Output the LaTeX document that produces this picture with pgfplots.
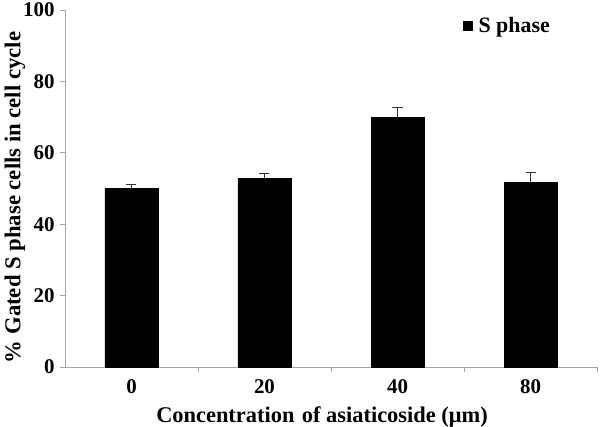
\documentclass[border=0pt]{standalone}
\usepackage{pgfplots}
\pgfplotsset{compat=1.18}
\usepackage{fontspec}
\setmainfont{Liberation Serif}
\begin{document}
\begin{tikzpicture}
\begin{axis}[
  at={(0,0)}, anchor=south west,
  scale only axis,
  width=532bp, height=357bp,
  xmin=-0.5, xmax=3.5,
  ymin=0, ymax=100,
  ytick={0,20,40,60,80,100},
  xtick={0,1,2,3},
  xticklabels={0,20,40,80},
  minor xtick={0.5,1.5,2.5,3.5},
  major x tick style={draw=none},
  minor tick length=5bp,
  major tick length=5bp,
  tick align=outside,
  axis lines*=left,
  axis line style={gray!70, line width=0.8pt},
  tick style={gray!70, line width=0.8pt},
  every tick/.style={gray!70, line width=0.8pt},
  /pgf/number format/assume math mode=true,
  ticklabel style={font=\bfseries\fontsize{21}{24}\selectfont},
  yticklabel style={xshift=-2bp},
  xticklabel style={yshift=-4bp},
  xlabel={Concentration\,\,of asiaticoside (μm)},
  ylabel={\% Gated S phase cells in cell cycle},
  xlabel style={font=\bfseries\fontsize{22.5}{26}\selectfont, yshift=-6bp, xshift=-9bp},
  ylabel style={font=\bfseries\fontsize{22.8}{26}\selectfont, at={(ticklabel cs:0.475)}, anchor=near ticklabel, yshift=-9bp},
  legend style={draw=none, fill=none, at={(0.747,0.955)}, anchor=west,
    font=\bfseries\fontsize{22}{25}\selectfont, inner sep=0pt,
    /tikz/every even column/.append style={column sep=0pt}},
  legend cell align=left,
]
\addplot[ybar, bar width=53bp, fill=black, draw=black,
  forget plot,
  error bars/.cd, y dir=plus, y explicit,
  error bar style={gray!40!black, line width=0.9pt},
  error mark options={rotate=90, mark size=5bp, gray!40!black, line width=0.9pt}]
  coordinates {
  (0,50.0) +- (0,1.0)
  (1,52.9) +- (0,1.2)
  (2,69.9) +- (0,2.8)
  (3,51.7) +- (0,2.8)
  };
\addlegendimage{legend image code/.code={\path[draw=none] (0bp,0bp) -- (14bp,0bp); \fill[black, draw=none] (0bp,-5bp) rectangle (10bp,5bp);}}
\addlegendentry{S phase}
\end{axis}
\pgfresetboundingbox
\path (-65bp,-60bp) rectangle (535bp,367bp);
\end{tikzpicture}
\end{document}
